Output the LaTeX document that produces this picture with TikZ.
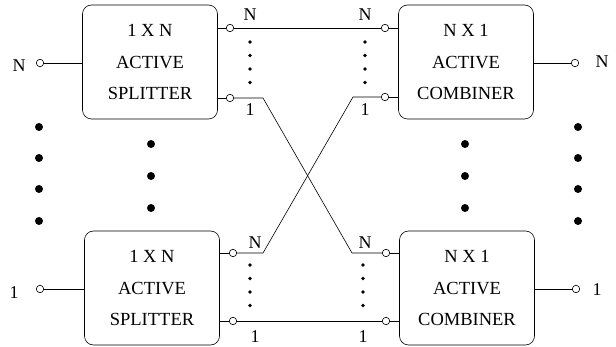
\documentclass[tikz,border=0pt]{standalone}
\usepackage{fontspec}
\setmainfont{Liberation Serif}

\begin{document}
\begin{tikzpicture}[x=1pt,y=-1pt,line width=0.6pt,
    box/.style={draw,rounded corners=9pt,minimum width=135pt,minimum height=114pt,
      align=center,font=\fontsize{18.5}{31.5}\selectfont},
    port/.style={draw,circle,inner sep=0pt,minimum size=7.5pt,fill=white},
    lbl/.style={inner sep=0pt,font=\fontsize{18}{18}\selectfont}]
        \useasboundingbox (0,0) rectangle (616,347);

        % Boxes
        \node[box] (spl1) at (150,62) {1 X N\\ACTIVE\\SPLITTER};
        \node[box] (comb1) at (466,62) {N X 1\\ACTIVE\\COMBINER};
        \node[box] (spl2) at (152,288) {1 X N\\ACTIVE\\SPLITTER};
        \node[box] (comb2) at (467,288) {N X 1\\ACTIVE\\COMBINER};

        % Ports
        \node[port] (inN) at (40,63) {};
        \node[port] (inOne) at (40,289) {};
        \node[port] (outN) at (575,63) {};
        \node[port] (outOne) at (576,289) {};
        \node[port] (sN1) at (230,28) {};
        \node[port] (sOne1) at (230,98) {};
        \node[port] (cN1) at (385,28) {};
        \node[port] (cOne1) at (385,97) {};
        \node[port] (sN2) at (233,253) {};
        \node[port] (sOne2) at (233,321) {};
        \node[port] (cN2) at (386,253) {};
        \node[port] (cOne2) at (386,321) {};

        % Port labels
        \node[lbl] at (19,66) {N};
        \node[lbl] at (14,293) {1};
        \node[lbl] at (602,62) {N};
        \node[lbl] at (597,290) {1};
        \node[lbl] at (250,15) {N};
        \node[lbl] at (250,110) {1};
        \node[lbl] at (365,15) {N};
        \node[lbl] at (365,110) {1};
        \node[lbl] at (255,243) {N};
        \node[lbl] at (255,337) {1};
        \node[lbl] at (365,243) {N};
        \node[lbl] at (363,337) {1};

        % Box stubs
        \draw (inN) -- (spl1.west |- inN);
        \draw (inOne) -- (spl2.west |- inOne);
        \draw (comb1.east |- outN) -- (outN);
        \draw (comb2.east |- outOne) -- (outOne);
        \draw (spl1.east |- sN1) -- (sN1);
        \draw (spl1.east |- sOne1) -- (sOne1);
        \draw (spl2.east |- sN2) -- (sN2);
        \draw (spl2.east |- sOne2) -- (sOne2);
        \draw (cN1) -- (comb1.west |- cN1);
        \draw (cOne1) -- (comb1.west |- cOne1);
        \draw (cN2) -- (comb2.west |- cN2);
        \draw (cOne2) -- (comb2.west |- cOne2);

        % Links
        \coordinate (a1) at (263,98);
        \coordinate (b1) at (352,253);
        \coordinate (a2) at (263,253);
        \coordinate (b2) at (353,97);
        \draw (sN1) -- (cN1);
        \draw (sOne2) -- (cOne2);
        \draw (sOne1) -- (a1) -- (b1) -- (cN2);
        \draw (sN2) -- (a2) -- (b2) -- (cOne1);

        % Small dots
        \foreach \y in {42,55.5,69,82.5} {
          \fill (250,\y) circle (1.8pt);
          \fill (365,\y) circle (1.8pt);
        }
        \foreach \y in {265,278.5,292,305.5} {
          \fill (250,\y) circle (1.8pt);
          \fill (363,\y) circle (1.8pt);
        }

        % Big dots
        \foreach \y in {127,158,189,221} {
          \fill (39,\y) circle (4pt);
          \fill (578,\y) circle (4pt);
        }
        \foreach \y in {144,176,208} {
          \fill (151,\y) circle (4pt);
          \fill (465,\y) circle (4pt);
        }
      \end{tikzpicture}
\end{document}
